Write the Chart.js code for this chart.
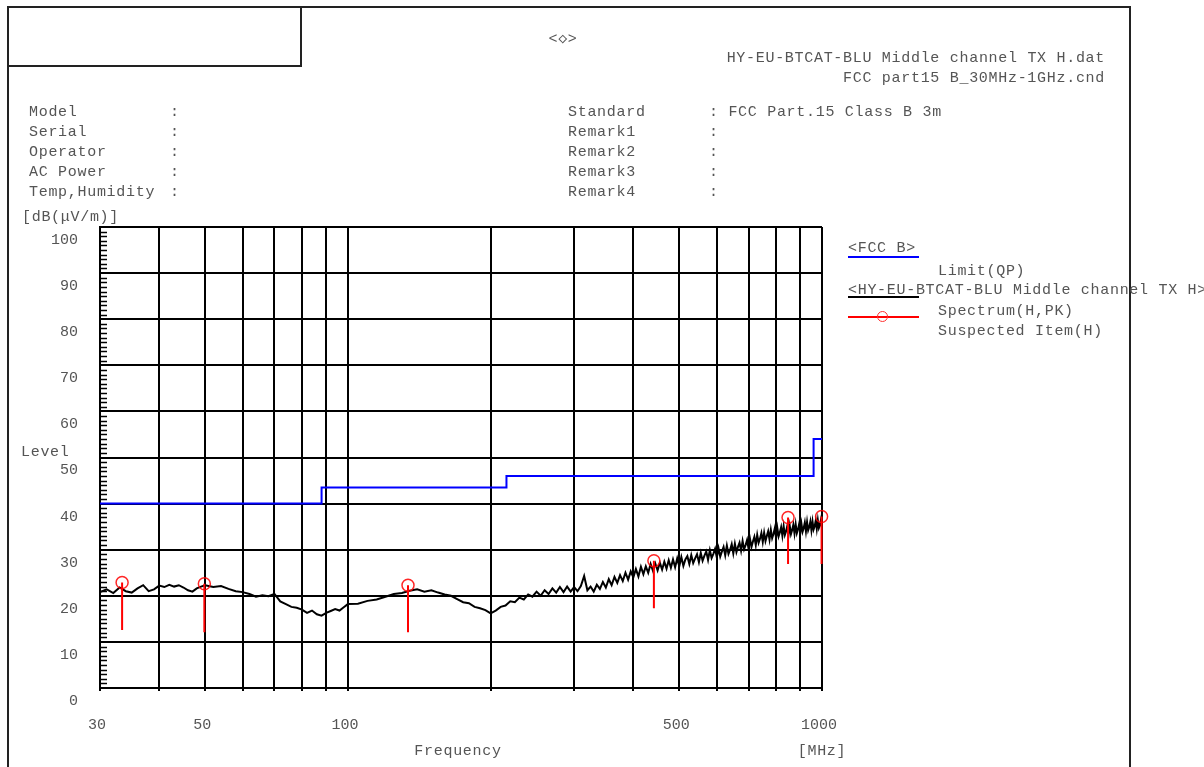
<!DOCTYPE html>
<html>
<head>
<meta charset="utf-8">
<script src="https://cdn.jsdelivr.net/npm/chart.js"></script>
<style>
  body { margin: 0; background: #fff; width: 1204px; height: 767px; overflow: hidden; position: relative; font-family: "Liberation Mono", monospace; }
  #chart { position: absolute; left: 0; top: 0; }
  .t { position: absolute; font-size: 15px; letter-spacing: 0.7px; color: #555; line-height: 18px; white-space: pre; }
  .box { position: absolute; border: 2px solid #222; box-sizing: border-box; }
  .bar { position: absolute; height: 2px; }
</style>
</head>
<body>
<canvas id="chart" width="1204" height="767"></canvas>

<!-- page frame -->
<div class="box" style="left:7px; top:6px; width:1124px; height:820px;"></div>
<div class="box" style="left:7px; top:6px; width:295px; height:61px;"></div>

<!-- header -->
<div class="t" style="left:563px; top:31px; transform:translateX(-50%);">&lt;◇&gt;</div>
<div class="t" style="right:99px; top:50px;">HY-EU-BTCAT-BLU Middle channel TX H.dat</div>
<div class="t" style="right:99px; top:70px;">FCC part15 B_30MHz-1GHz.cnd</div>

<div class="t" style="left:29px; top:104px;">Model</div>
<div class="t" style="left:29px; top:124px;">Serial</div>
<div class="t" style="left:29px; top:144px;">Operator</div>
<div class="t" style="left:29px; top:164px;">AC Power</div>
<div class="t" style="left:29px; top:184px;">Temp,Humidity</div>
<div class="t" style="left:170px; top:104px;">:</div>
<div class="t" style="left:170px; top:124px;">:</div>
<div class="t" style="left:170px; top:144px;">:</div>
<div class="t" style="left:170px; top:164px;">:</div>
<div class="t" style="left:170px; top:184px;">:</div>

<div class="t" style="left:568px; top:104px;">Standard</div>
<div class="t" style="left:568px; top:124px;">Remark1</div>
<div class="t" style="left:568px; top:144px;">Remark2</div>
<div class="t" style="left:568px; top:164px;">Remark3</div>
<div class="t" style="left:568px; top:184px;">Remark4</div>
<div class="t" style="left:709px; top:104px;">: FCC Part.15 Class B 3m</div>
<div class="t" style="left:709px; top:124px;">:</div>
<div class="t" style="left:709px; top:144px;">:</div>
<div class="t" style="left:709px; top:164px;">:</div>
<div class="t" style="left:709px; top:184px;">:</div>

<!-- axis titles -->
<div class="t" style="left:22px; top:209px;">[dB(μV/m)]</div>
<div class="t" style="left:21px; top:444px;">Level</div>
<div class="t" style="left:458px; top:743px; transform:translateX(-50%);">Frequency</div>
<div class="t" style="left:822px; top:743px; transform:translateX(-50%);">[MHz]</div>

<!-- legend -->
<div class="t" style="left:848px; top:240px;">&lt;FCC B&gt;</div>
<div class="bar" style="left:848px; top:256px; width:71px; background:#0000ff;"></div>
<div class="t" style="left:938px; top:263px;">Limit(QP)</div>
<div class="t" style="left:848px; top:282px;">&lt;HY-EU-BTCAT-BLU Middle channel TX H&gt;</div>
<div class="bar" style="left:848px; top:296px; width:71px; background:#000;"></div>
<div class="bar" style="left:848px; top:316px; width:71px; background:#ff0000;"></div>
<div style="position:absolute; left:877px; top:311px; width:9px; height:9px; border:1.5px solid #ff3030; border-radius:50%;"></div>
<div class="t" style="left:938px; top:303px;">Spectrum(H,PK)</div>
<div class="t" style="left:938px; top:323px;">Suspected Item(H)</div>

<script>
// spectrum trace (MHz, dBuV/m)
const traceFreq = [
  30, 31, 32, 33, 34, 35, 36, 37, 38, 39, 40, 41, 42, 43, 44, 45, 46, 47, 48, 49, 50,
  52, 54, 56, 58, 60, 62, 64, 66, 68, 70, 72, 74, 76, 78, 80, 82, 84, 86, 88, 90, 92, 94, 96, 98, 100,
  105, 110, 115, 120, 125, 130, 135, 140, 145, 150, 155, 160, 165, 170, 175, 180, 185, 190, 195, 200,
  205, 210, 215, 220, 225, 230, 235, 240, 245, 250,
  255, 260, 265, 270, 275, 280, 285, 290, 295, 300,
  305, 310, 315, 320, 325, 330, 335, 340, 345, 350,
  355, 360, 365, 370, 375, 380, 385, 390, 395, 400,
  405, 410, 415, 420, 425, 430, 435, 440, 445, 450,
  455, 460, 465, 470, 475, 480, 485, 490, 495, 500,
  505, 510, 515, 520, 525, 530, 535, 540, 545, 550,
  555, 560, 565, 570, 575, 580, 585, 590, 595, 600,
  605, 610, 615, 620, 625, 630, 635, 640, 645, 650,
  655, 660, 665, 670, 675, 680, 685, 690, 695, 700,
  705, 710, 715, 720, 725, 730, 735, 740, 745, 750,
  755, 760, 765, 770, 775, 780, 785, 790, 795, 800,
  805, 810, 815, 820, 825, 830, 835, 840, 845, 850,
  855, 860, 865, 870, 875, 880, 885, 890, 895, 900,
  905, 910, 915, 920, 925, 930, 935, 940, 945, 950,
  955, 960, 965, 970, 975, 980, 985, 990, 995, 1000
];
const traceLevel = [
  20.8, 21.4, 20.6, 21.8, 21.0, 20.7, 21.6, 22.3, 21.0, 21.4, 22.2, 21.9, 22.4, 22.0, 22.3, 21.8, 21.2, 20.9, 21.6, 22.0, 22.3,
  21.9, 22.1, 21.5, 21.0, 20.8, 20.4, 19.8, 20.1, 19.9, 20.4, 18.8, 18.2, 17.6, 17.4, 17.0, 16.3, 16.8, 16.0, 15.7, 16.3, 16.7, 17.1, 16.8, 17.5, 18.2,
  18.3, 18.9, 19.2, 19.8, 20.4, 20.6, 21.1, 21.4, 20.9, 21.2, 20.7, 20.3, 20.0, 19.3, 18.6, 18.4, 17.6, 17.3, 16.9, 16.2,
  16.8, 17.6, 17.9, 18.8, 18.6, 19.6, 19.2, 20.3, 19.8, 20.9,
  20.0, 21.2, 20.4, 21.6, 20.7, 21.9, 20.8, 22.0, 20.9, 21.9,
  21.0, 22.1, 24.3, 21.2, 22.0, 20.9, 22.4, 21.5, 23.0, 21.8,
  23.6, 22.3, 24.1, 22.8, 24.5, 23.2, 25.0, 23.5, 25.3, 24.0,
  25.8, 24.2, 26.3, 24.7, 26.4, 25.0, 26.9, 25.4, 27.0, 25.5,
  27.2, 25.7, 27.4, 25.9, 27.7, 26.1, 27.9, 26.2, 28.1, 26.4,
  28.4, 26.5, 27.9, 28.6, 26.9, 28.8, 27.1, 28.1, 29.0, 27.3,
  29.3, 27.6, 28.7, 29.6, 27.8, 29.9, 28.2, 29.1, 30.2, 28.3,
  30.3, 28.5, 29.6, 30.6, 28.8, 30.9, 29.1, 30.0, 31.2, 29.2,
  31.3, 29.5, 30.6, 31.5, 29.8, 31.9, 30.1, 31.0, 32.1, 30.2,
  32.3, 30.6, 31.8, 32.8, 31.0, 33.2, 31.5, 32.4, 33.6, 31.7,
  33.7, 31.9, 33.0, 34.0, 32.2, 34.3, 32.5, 33.4, 34.6, 32.6,
  34.7, 32.9, 33.8, 34.9, 33.0, 35.1, 33.2, 34.0, 35.2, 33.2,
  35.2, 33.4, 34.3, 35.4, 33.5, 35.5, 33.6, 34.4, 35.6, 33.7,
  35.6, 33.9, 34.7, 35.9, 34.0, 36.0, 34.2, 34.9, 36.1, 34.2,
  36.1, 34.4, 35.1, 36.3, 34.5, 36.4, 34.7, 35.3, 36.5, 34.9
];

// FCC class B limit (QP)
const limitFreq = [30, 88, 88, 216, 216, 960, 960, 1000];
const limitLevel = [40, 40, 43.5, 43.5, 46, 46, 54, 54];

// suspected items
const peakFreq = [33.4, 49.8, 133.9, 442, 848, 998];
const peakLevel = [22.9, 22.6, 22.3, 27.6, 37.0, 37.2];
const peakBase = [12.6, 12.1, 12.1, 17.3, 26.9, 26.9];

// axes
const xGridValues = [30, 40, 50, 60, 70, 80, 90, 100, 200, 300, 400, 500, 600, 700, 800, 900, 1000];
const xLabelValues = [30, 50, 100, 500, 1000];

const textColor = '#555';
const monoFont = { family: 'Liberation Mono', size: 15 };

const traceData = traceFreq.map((f, i) => ({ x: f, y: traceLevel[i] }));
const limitData = limitFreq.map((f, i) => ({ x: f, y: limitLevel[i] }));
const peakData = peakFreq.map((f, i) => ({ x: f, y: peakLevel[i] }));
const stemData = peakFreq.flatMap((f, i) => [
  { x: f, y: peakLevel[i] }, { x: f, y: peakBase[i] }, { x: f, y: null }
]);

// small 1 dB ticks on the inside of the level axis
const minorTicks = {
  id: 'minorTicks',
  afterDraw(chart) {
    const ctx = chart.ctx;
    const y = chart.scales.y;
    const left = chart.chartArea.left;
    ctx.save();
    ctx.strokeStyle = '#000';
    ctx.lineWidth = 1.5;
    for (let v = 1; v < 100; v++) {
      if (v % 10 === 0) continue;
      const py = Math.round(y.getPixelForValue(v)) + 0.5;
      ctx.beginPath();
      ctx.moveTo(left, py);
      ctx.lineTo(left + 7, py);
      ctx.stroke();
    }
    ctx.restore();
  }
};

new Chart(document.getElementById('chart'), {
  type: 'line',
  data: {
    datasets: [
      {
        label: 'Suspected Item(H)',
        data: peakData,
        showLine: false,
        pointRadius: 6,
        pointStyle: 'circle',
        pointBorderColor: 'rgba(255,0,0,0.85)',
        pointBackgroundColor: 'rgba(0,0,0,0)',
        pointBorderWidth: 1.5,
        clip: false
      },
      {
        label: 'stems',
        data: stemData,
        borderColor: '#ff0000',
        borderWidth: 2,
        pointRadius: 0,
        spanGaps: false,
        clip: false
      },
      {
        label: 'Limit(QP)',
        data: limitData,
        borderColor: '#0000ff',
        borderWidth: 2,
        pointRadius: 0
      },
      {
        label: 'Spectrum(H,PK)',
        data: traceData,
        borderColor: '#000',
        borderWidth: 2,
        pointRadius: 0
      }
    ]
  },
  options: {
    responsive: false,
    animation: false,
    tension: 0,
    layout: { padding: { top: 227, right: 382, bottom: 0, left: 0 } },
    plugins: { legend: { display: false }, tooltip: { enabled: false } },
    scales: {
      x: {
        type: 'logarithmic',
        min: 30,
        max: 1000,
        afterFit: (scale) => { scale.height = 79; },
        afterBuildTicks: (scale) => { scale.ticks = xGridValues.map(v => ({ value: v })); },
        grid: { color: '#000', lineWidth: 2, drawTicks: true, tickLength: 3 },
        border: { color: '#000', width: 2 },
        ticks: {
          autoSkip: false,
          maxRotation: 0,
          padding: 25,
          labelOffset: -3,
          color: textColor,
          font: monoFont,
          callback: (v) => xLabelValues.includes(v) ? String(v) : ''
        }
      },
      y: {
        min: 0,
        max: 100,
        afterFit: (scale) => { scale.width = 100; },
        grid: { color: '#000', lineWidth: 2, drawTicks: false },
        border: { color: '#000', width: 2 },
        ticks: {
          stepSize: 10,
          padding: 22,
          labelOffset: 13,
          color: textColor,
          font: monoFont
        }
      }
    }
  },
  plugins: [minorTicks]
});
</script>
</body>
</html>
